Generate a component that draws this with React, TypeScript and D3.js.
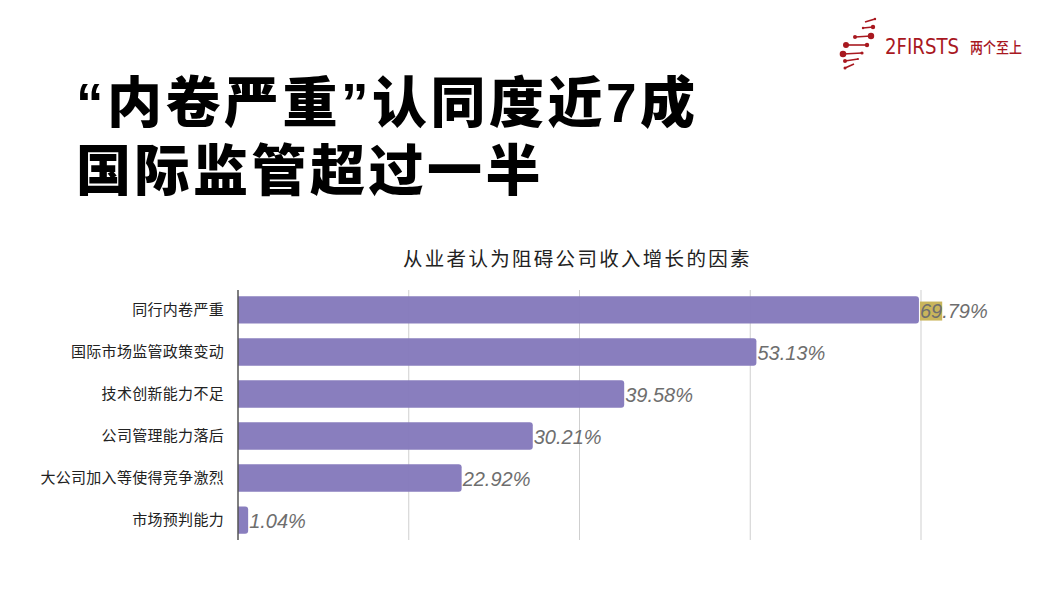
import React, { useEffect, useRef } from "react";
import * as d3 from "d3";

const categories = [
  "同行内卷严重",
  "国际市场监管政策变动",
  "技术创新能力不足",
  "公司管理能力落后",
  "大公司加入等使得竞争激烈",
  "市场预判能力",
];
const values = [69.79, 53.13, 39.58, 30.21, 22.92, 1.04];
const gridTicks = [0, 17.5, 35, 52.5, 70];

const titleLines = ["“内卷严重”认同度近7成", "国际监管超过一半"];
const chartTitle = "从业者认为阻碍公司收入增长的因素";

const W = 1052;
const H = 590;
const margin = { left: 238, right: 131, top: 290, bottom: 50 };

const App = () => {
  const ref = useRef<SVGSVGElement>(null);

  useEffect(() => {
    const svg = d3.select(ref.current);
    svg.selectAll("*").remove();

    const x = d3
      .scaleLinear()
      .domain([0, 70])
      .range([margin.left, W - margin.right]);
    const y = d3
      .scaleBand<string>()
      .domain(categories)
      .range([margin.top, H - margin.bottom])
      .paddingInner(0.35)
      .paddingOuter(0.15);

    const cjk = "'Noto Sans CJK SC', sans-serif";

    // big heading (latin glyphs from Liberation, CJK falls back to Noto)
    svg
      .append("g")
      .selectAll("text")
      .data(titleLines)
      .join("text")
      .attr("x", 76)
      .attr("y", (_, i) => 122 + i * 68)
      .attr("font-family", "'Liberation Sans', 'Noto Sans CJK SC', sans-serif")
      .attr("font-weight", 900)
      .attr("font-size", 55)
      .attr("letter-spacing", 3.5)
      .attr("fill", "#000")
      .text((d) => d);

    // chart title
    svg
      .append("text")
      .attr("x", 403)
      .attr("y", 266)
      .attr("font-family", cjk)
      .attr("font-size", 19.5)
      .attr("letter-spacing", 2.3)
      .attr("fill", "#222")
      .text(chartTitle);

    // grid
    svg
      .append("g")
      .selectAll("line")
      .data(gridTicks.slice(1))
      .join("line")
      .attr("x1", (d) => x(d))
      .attr("x2", (d) => x(d))
      .attr("y1", margin.top)
      .attr("y2", H - margin.bottom)
      .attr("stroke", "#cfcfcf")
      .attr("stroke-width", 1);

    // bars
    const r = 3;
    svg
      .append("g")
      .selectAll("path")
      .data(values)
      .join("path")
      .attr("d", (d, i) => {
        const x0 = x(0);
        const x1 = x(d);
        const y0 = y(categories[i])!;
        const h = y.bandwidth();
        const rr = Math.min(r, x1 - x0);
        return `M${x0},${y0}H${x1 - rr}Q${x1},${y0} ${x1},${y0 + rr}V${y0 + h - rr}Q${x1},${y0 + h} ${x1 - rr},${y0 + h}H${x0}Z`;
      })
      .attr("fill", "#857abc")
      .attr("fill-opacity", 0.97);

    // axis line
    svg
      .append("line")
      .attr("x1", x(0))
      .attr("x2", x(0))
      .attr("y1", margin.top)
      .attr("y2", H - margin.bottom)
      .attr("stroke", "#555")
      .attr("stroke-width", 1.5);

    // category labels
    svg
      .append("g")
      .selectAll("text")
      .data(categories)
      .join("text")
      .attr("x", 224)
      .attr("y", (d) => y(d)! + y.bandwidth() / 2)
      .attr("dy", "0.35em")
      .attr("text-anchor", "end")
      .attr("font-family", cjk)
      .attr("font-size", 15)
      .attr("letter-spacing", 0.3)
      .attr("fill", "#222")
      .text((d) => d);

    // value labels
    const labelG = svg.append("g");
    const labels = labelG
      .selectAll("text")
      .data(values)
      .join("text")
      .attr("x", (d) => x(d) + 1)
      .attr("y", (_, i) => y(categories[i])! + y.bandwidth() / 2)
      .attr("dy", "0.38em")
      .attr("font-family", "'Liberation Sans', Arial, sans-serif")
      .attr("font-style", "italic")
      .attr("font-size", 20)
      .attr("fill", "#6e6e6e")
      .text((d) => d.toFixed(2) + "%");

    // highlight on first label's "69"
    const first = labels.nodes()[0] as SVGTextElement;
    if (first) {
      const ext = first.getExtentOfChar(0);
      const ext2 = first.getExtentOfChar(1);
      svg
        .insert("rect", () => labelG.node())
        .attr("x", ext.x)
        .attr("y", ext.y + 2)
        .attr("width", ext2.x + ext2.width - ext.x)
        .attr("height", ext.height - 3)
        .attr("fill", "#c9b55c");
    }

    // logo
    const logo = svg.append("g").attr("transform", "translate(835,12)");
    const red = "#a8181f";
    // [x1, y1, x2, y2, r1, r2]
    const rungs = [
      [30, 10, 40, 7, 0, 1.2],
      [28, 16, 38, 15, 1.2, 2.2],
      [20, 25, 36, 24, 2, 3.2],
      [11, 33, 32, 33, 3, 2.2],
      [8, 42, 27, 41, 3.3, 1.6],
      [10, 49, 23, 47, 2, 1],
      [10, 56, 19, 52, 1.5, 0],
    ];
    rungs.forEach(([a, b, c, d2, r1, r2]) => {
      logo
        .append("line")
        .attr("x1", a)
        .attr("y1", b)
        .attr("x2", c)
        .attr("y2", d2)
        .attr("stroke", red)
        .attr("stroke-width", 1.6);
      if (r1) logo.append("circle").attr("cx", a).attr("cy", b).attr("r", r1).attr("fill", red);
      if (r2) logo.append("circle").attr("cx", c).attr("cy", d2).attr("r", r2).attr("fill", red);
    });
    logo
      .append("text")
      .attr("x", 50)
      .attr("y", 42)
      .attr("font-family", "'DejaVu Sans', sans-serif")
      .attr("font-size", 22)
      .attr("fill", red)
      .attr("textLength", 74)
      .attr("lengthAdjust", "spacingAndGlyphs")
      .text("2FIRSTS");
    logo
      .append("text")
      .attr("x", 135)
      .attr("y", 41)
      .attr("font-family", cjk)
      .attr("font-size", 15)
      .attr("font-weight", 500)
      .attr("fill", red)
      .attr("textLength", 52)
      .attr("lengthAdjust", "spacingAndGlyphs")
      .text("两个至上");
  }, []);

  return (
    <svg
      ref={ref}
      width={W}
      height={H}
      style={{ position: "absolute", left: 0, top: 0, background: "#fff" }}
    />
  );
};

export default App;
